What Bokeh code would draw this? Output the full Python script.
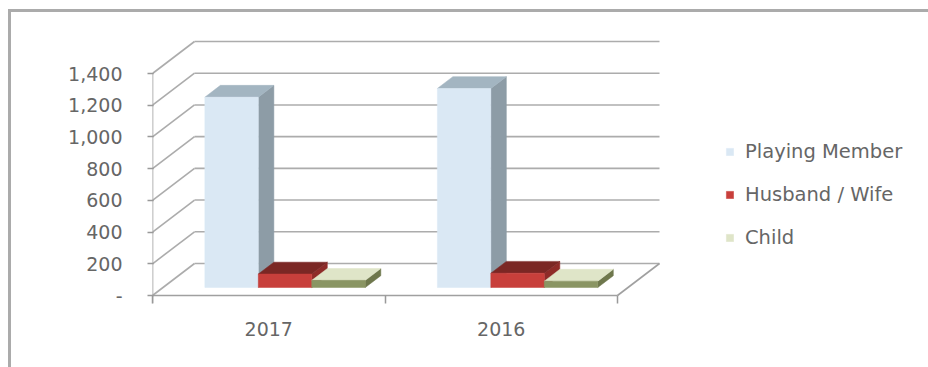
from bokeh.plotting import figure
from bokeh.models import (FixedTicker, NumeralTickFormatter, Legend, LegendItem, Range1d)
from bokeh.embed import file_html
from bokeh.resources import INLINE

# ---------------- data ----------------
categories = ["2017", "2016"]
series_names = ["Playing Member", "Husband / Wife", "Child"]
playing_member = [1200, 1255]
husband_wife = [85, 90]
child = [45, 40]
y_ticks = [0, 200, 400, 600, 800, 1000, 1200, 1400]

series_values = [playing_member, husband_wife, child]

# ---------------- style ----------------
front_colors = ["#dae8f4", "#c83f3b", "#8a9563"]
top_colors = ["#a3b5c1", "#7b2724", "#dfe5c8"]
side_colors = ["#8d9ca6", "#8e2b28", "#6e774c"]
legend_face = ["front", "front", "top"]
grid_color = "#acacac"
text_color = "#666666"
FONT = "DejaVu Sans"

# outer chart border (CSS on the plot element)
MARG_X, MARG_Y, BORDER = 8, 9, 3
OFF_X, OFF_Y = MARG_X + BORDER, MARG_Y + BORDER   # page offset of the canvas
W, H = 928 - MARG_X, 367 - MARG_Y
left_px = 152 - OFF_X      # frame left (y axis position)
cat_px = 232.5             # pixels per category
ppu = 222 / 1400           # pixels per value unit
dx = 42 / cat_px           # depth offset in x units
dy = 32 / ppu              # depth offset in value units
n_cat = len(categories)
frame_bottom = 303 - OFF_Y
bottom_px = H - frame_bottom
y_start = -(303 - 295) / ppu
y_end = y_start + frame_bottom / ppu
x_end = (W - left_px) / cat_px

gap_left = 0.18
bar_w = 0.23
d0, d1 = 0.25, 0.62

p = figure(width=W, height=H, output_backend="svg", toolbar_location=None,
           x_range=Range1d(0, x_end), y_range=Range1d(y_start, y_end),
           min_border_left=left_px, min_border_right=0, min_border_top=0,
           min_border_bottom=bottom_px)
p.margin = (MARG_Y, 0, 0, MARG_X)
p.styles = {"border-left": f"{BORDER}px solid #ababab", "border-top": f"{BORDER}px solid #ababab"}
p.xgrid.visible = False
p.ygrid.visible = False
p.outline_line_color = None
p.background_fill_color = "white"
p.border_fill_color = "white"

# ---------------- walls / floor ----------------
back_xs = [[dx, n_cat + dx] for v in y_ticks]
back_ys = [[v + dy, v + dy] for v in y_ticks]
side_xs = [[0, dx] for v in y_ticks]
side_ys = [[v, v + dy] for v in y_ticks]
p.multi_line(back_xs + side_xs, back_ys + side_ys, line_color=grid_color, line_width=1.6)
p.multi_line([[0, n_cat], [n_cat, n_cat + dx], [0, 0]],
             [[0, 0], [0, dy], [y_start, max(y_ticks)]],
             line_color="#a0a0a0", line_width=1.6)

# ---------------- 3D bars ----------------
face_renderers = []
for j, vals in enumerate(series_values):
    faces = {"side": ([], []), "top": ([], []), "front": ([], [])}
    for i in range(n_cat):
        v = vals[i]
        x0 = i + gap_left + j * bar_w
        x1 = x0 + bar_w
        fx0, fx1, fy = x0 + d0 * dx, x1 + d0 * dx, d0 * dy
        bx0, bx1, by = x0 + d1 * dx, x1 + d1 * dx, d1 * dy
        faces["side"][0].append([fx1, bx1, bx1, fx1]); faces["side"][1].append([fy, by, by + v, fy + v])
        faces["top"][0].append([fx0, fx1, bx1, bx0]); faces["top"][1].append([fy + v, fy + v, by + v, by + v])
        faces["front"][0].append([fx0, fx1, fx1, fx0]); faces["front"][1].append([fy, fy, fy + v, fy + v])
    rs = {}
    for face, col in (("side", side_colors[j]), ("top", top_colors[j]), ("front", front_colors[j])):
        fxs, fys = faces[face]
        rs[face] = p.patches(fxs, fys, fill_color=col, line_color=col, line_width=0.5)
    face_renderers.append(rs)

# ---------------- axes ----------------
p.yaxis.ticker = FixedTicker(ticks=y_ticks, minor_ticks=[])
p.yaxis.formatter = NumeralTickFormatter(format="0,0")
p.yaxis.major_label_overrides = {0: "-"}
p.yaxis.axis_line_color = None
p.yaxis.major_tick_out = 5
p.yaxis.major_tick_in = 1
p.yaxis.major_tick_line_color = "#999999"
p.yaxis.major_tick_line_width = 1.5
p.yaxis.minor_tick_line_color = None
p.yaxis.major_label_standoff = 25
p.yaxis.major_label_text_font = FONT
p.yaxis.major_label_text_font_size = "19px"
p.yaxis.major_label_text_color = text_color

centers = [i + 0.5 for i in range(n_cat)]
p.xaxis.ticker = FixedTicker(ticks=centers, minor_ticks=list(range(n_cat + 1)))
p.xaxis.major_label_overrides = {c: lab for c, lab in zip(centers, categories)}
p.xaxis.axis_line_color = None
p.xaxis.major_tick_in = 0
p.xaxis.major_tick_out = 0
p.xaxis.minor_tick_in = 8
p.xaxis.minor_tick_out = 0
p.xaxis.minor_tick_line_color = "#999999"
p.xaxis.minor_tick_line_width = 1.5
p.xaxis.major_label_standoff = 18
p.xaxis.major_label_text_font = FONT
p.xaxis.major_label_text_font_size = "19px"
p.xaxis.major_label_text_color = text_color

# ---------------- legend ----------------
items = [LegendItem(label=name, renderers=[face_renderers[j][legend_face[j]]])
         for j, name in enumerate(series_names)]
legend = Legend(items=items, location=(573, 54), glyph_width=9, glyph_height=9,
                label_standoff=11, label_height=22, spacing=20, padding=0, margin=0,
                border_line_color=None, background_fill_alpha=0,
                label_text_font=FONT, label_text_font_size="19.5px",
                label_text_color=text_color)
p.add_layout(legend)

open("out.html", "w").write(file_html(p, INLINE))
